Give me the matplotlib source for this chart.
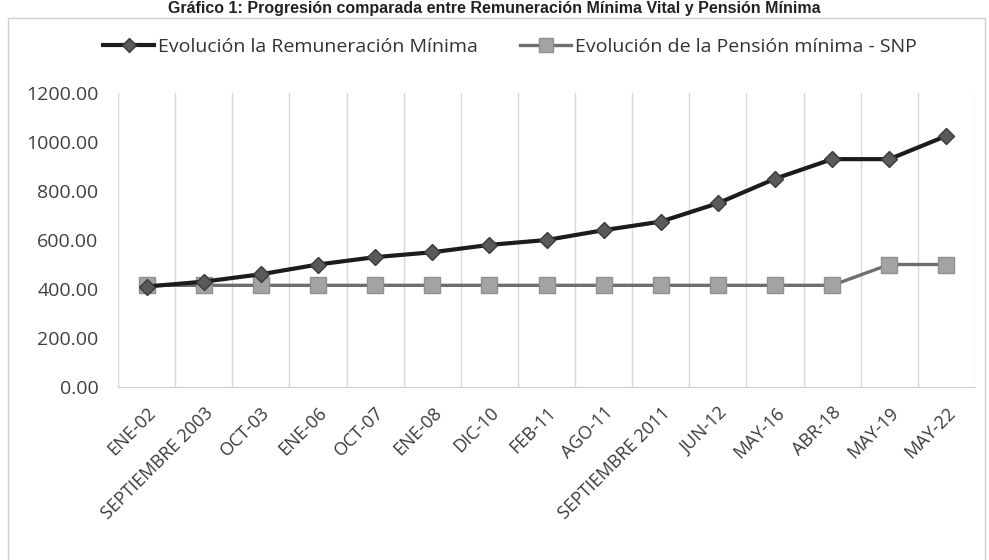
import matplotlib
matplotlib.use("Agg")
import matplotlib.pyplot as plt
from matplotlib.patches import Rectangle
from matplotlib.ticker import FixedLocator, FuncFormatter

categories = ["ENE-02", "SEPTIEMBRE 2003", "OCT-03", "ENE-06", "OCT-07", "ENE-08",
              "DIC-10", "FEB-11", "AGO-11", "SEPTIEMBRE 2011", "JUN-12", "MAY-16",
              "ABR-18", "MAY-19", "MAY-22"]
remuneracion = [410, 430, 460, 500, 530, 550, 580, 600, 640, 675, 750, 850, 930, 930, 1025]
pension = [415, 415, 415, 415, 415, 415, 415, 415, 415, 415, 415, 415, 415, 500, 500]
yticks = [0, 200, 400, 600, 800, 1000, 1200]

plt.rcParams['font.family'] = ['Open Sans', 'DejaVu Sans']

fig = plt.figure(figsize=(9.89, 5.6), dpi=100)
W, H = 989, 560
ax = fig.add_axes([118 / W, 1 - 387 / H, (975 - 118) / W, (387 - 93) / H])

x = list(range(len(categories)))
ax.plot(x, pension, color='#6e6e6e', lw=2.4, marker='s', markersize=12,
        markerfacecolor='#a3a3a3', markeredgecolor='#8f8f8f', markeredgewidth=1,
        label='Evolución de la Pensión mínima - SNP', zorder=3)
ax.plot(x, remuneracion, color='#1c1c1c', lw=3, marker='D', markersize=8,
        markerfacecolor='#5a5a5a', markeredgecolor='#3a3a3a', markeredgewidth=1,
        label='Evolución la Remuneración Mínima', zorder=4)

ax.set_xlim(-0.5, len(categories) - 0.5)
ax.set_ylim(0, 1200)
ax.set_yticks(yticks)
ax.yaxis.set_major_formatter(FuncFormatter(lambda v, p: f"{v:.2f}"))
ax.set_xticks(x)
ax.set_xticklabels(categories, rotation=45, ha='right', rotation_mode='anchor',
                   fontsize=13, color='#3a3a3a')
ax.tick_params(axis='y', labelsize=14, colors='#404040', length=0, pad=14)
ax.tick_params(axis='x', length=0, pad=12)

ax.xaxis.set_minor_locator(FixedLocator([i + 0.5 for i in range(-1, len(categories))]))
ax.tick_params(axis='x', which='minor', length=0)
ax.grid(True, which='minor', axis='x', color='#d9d9d9', lw=1)
ax.grid(False, which='major')
for s in ['top', 'right', 'left']:
    ax.spines[s].set_visible(False)
ax.spines['bottom'].set_color('#d0d0d0')

handles, labels = ax.get_legend_handles_labels()
fig.legend(handles[::-1], labels[::-1], loc='center', bbox_to_anchor=(510 / W, 1 - 47 / H),
           ncol=2, frameon=False, fontsize=14, handlelength=2.6, handletextpad=0.2,
           columnspacing=2.2, markerscale=0.85, labelcolor='#333333')

fig.patches.append(Rectangle((8 / W, -0.01), 977 / W, 1 - 18 / H + 0.01,
                             transform=fig.transFigure, fill=False,
                             edgecolor='#d0d0d0', lw=1))

fig.text(0.5, 1 - 13 / H,
         "Gráfico 1: Progresión comparada entre Remuneración Mínima Vital y Pensión Mínima",
         ha='center', va='baseline', fontsize=11.5, fontweight='bold',
         family='Liberation Sans', color='#222222')

fig.savefig('out.png', dpi=100)
